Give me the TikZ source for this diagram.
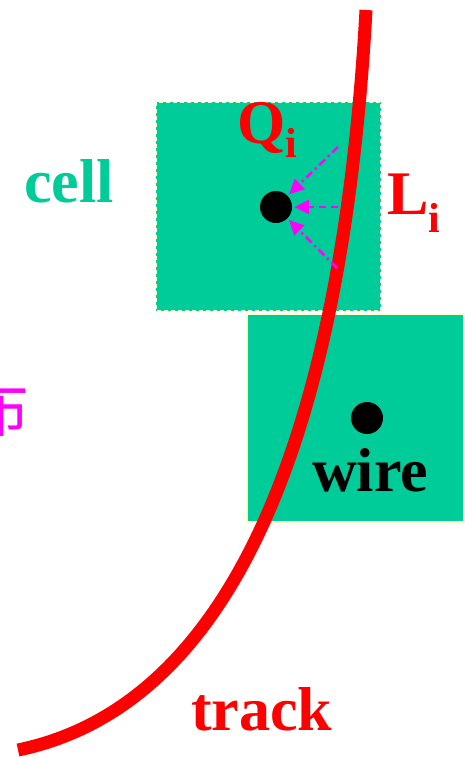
\documentclass[tikz,border=0pt]{standalone}
\usepackage{fontspec}
\setmainfont{Liberation Serif}
\newfontfamily\cjkfont{Noto Sans CJK SC}
\usetikzlibrary{
  arrows.meta, % For arrow tips
  positioning
}
\definecolor{cellgreen}{RGB}{0,204,153}
\definecolor{cellrim}{RGB}{255,255,204}
\definecolor{driftpink}{RGB}{255,0,255}

\begin{document}
\begin{tikzpicture}[
      x=1pt, y=-1pt, % pixel units, y downwards
      cellbox/.style={fill=cellgreen, draw=cellrim, line width=1.5pt},
      bigtext/.style={font=\fontsize{62}{70}\selectfont\bfseries, inner sep=0pt, anchor=base west},
      hitdot/.style={circle, fill=black, minimum size=32pt, inner sep=0pt},
      drift/.style={driftpink, line width=2.5pt, shorten >=2pt, -{Triangle[length=15pt,width=14pt]}},
      trackline/.style={red, line width=13pt},
    ]

    \useasboundingbox (0,0) rectangle (465,758);

    % Zellen
    \draw[cellbox, dash pattern=on 4pt off 3pt] (156,102) rectangle (381,311);
    \draw[cellbox] (247,314) rectangle (464,522);

    % Spur
    \coordinate (trkA) at (366,10);
    \coordinate (trkB) at (350,300);
    \coordinate (trkC) at (284,695);
    \coordinate (trkD) at (18,750);
    \draw[trackline] (trkA) .. controls (trkB) and (trkC) .. (trkD);

    % Drähte
    \node[hitdot] (celldot) at (276,207) {};
    \node[hitdot] (wiredot) at (367,418) {};

    % Driftwege zum Draht
    \coordinate (q1) at (338,147);
    \coordinate (q2) at (338,207);
    \coordinate (q3) at (337,268);
    \draw[drift, dash pattern=on 8pt off 4pt on 2pt off 4pt] (q1) -- (celldot);
    \draw[drift, dash pattern=on 7pt off 5pt] (q2) -- (celldot);
    \draw[drift, dash pattern=on 8pt off 4pt on 2pt off 4pt] (q3) -- (celldot);

    % Beschriftungen
    \node[bigtext, text=cellgreen] (celltext) at (24,202) {cell};
    \node[bigtext, text=red] (qlabel) at (237,143) {Q\raisebox{-14pt}{\fontsize{42}{42}\selectfont i}};
    \node[bigtext, text=red] (llabel) at (387,214) {L\raisebox{-18pt}{\fontsize{42}{42}\selectfont i}};
    \node[bigtext, text=black] (wiretext) at (312,491) {wire};
    \node[bigtext, text=red] (tracktext) at (191,730) {track};
    \node[font=\cjkfont\fontsize{62}{70}\selectfont, text=driftpink, anchor=east, inner sep=0pt] (distlabel) at (30,408) {布};
  \end{tikzpicture}
\end{document}
